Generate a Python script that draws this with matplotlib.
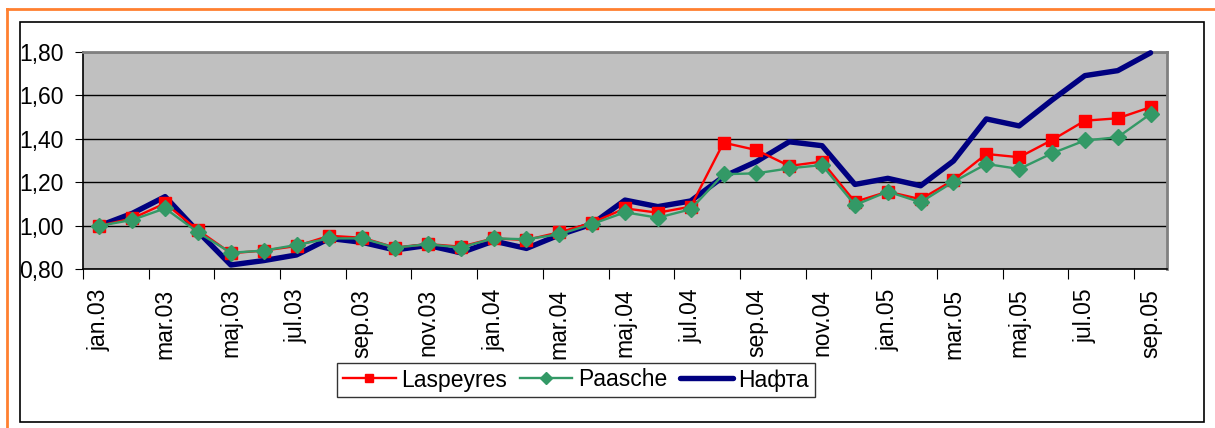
import matplotlib.pyplot as plt
import matplotlib.patches as mpatches
from matplotlib.lines import Line2D

plt.rcParams['font.family'] = ['Liberation Sans', 'DejaVu Sans']

meseci = ["jan", "feb", "mar", "apr", "maj", "jun", "jul", "avg", "sep", "okt", "nov", "dek"]
periodi = [m + "." + g for g in ["03", "04", "05"] for m in meseci][:33]

laspeyres = [1.00, 1.034, 1.103, 0.98, 0.874, 0.886, 0.907, 0.954, 0.945, 0.90,
             0.916, 0.904, 0.942, 0.935, 0.97, 1.014, 1.08, 1.06, 1.088, 1.382,
             1.348, 1.275, 1.295, 1.11, 1.157, 1.122, 1.21, 1.33, 1.315, 1.394,
             1.483, 1.494, 1.545]
paasche = [1.00, 1.027, 1.08, 0.97, 0.876, 0.886, 0.912, 0.942, 0.942, 0.90,
           0.915, 0.90, 0.942, 0.938, 0.961, 1.008, 1.062, 1.037, 1.076, 1.237,
           1.241, 1.264, 1.279, 1.095, 1.157, 1.108, 1.202, 1.284, 1.261, 1.333,
           1.392, 1.407, 1.514]
nafta = [1.00, 1.057, 1.134, 0.973, 0.82, 0.84, 0.866, 0.942, 0.924, 0.889,
         0.91, 0.876, 0.93, 0.896, 0.958, 1.008, 1.118, 1.088, 1.114, 1.226,
         1.295, 1.386, 1.368, 1.19, 1.218, 1.184, 1.298, 1.491, 1.459, 1.578,
         1.69, 1.713, 1.795]

x = list(range(len(periodi)))
fs = 16.5

fig = plt.figure(figsize=(12.15, 4.28), dpi=100)

# okviri: portokalov i crn
fig.add_artist(Line2D([7 / 1215, 7 / 1215], [0, 1 - 9 / 428], color='#FF8030', lw=2))
fig.add_artist(Line2D([7 / 1215, 1], [1 - 9 / 428, 1 - 9 / 428], color='#FF8030', lw=2))
fig.add_artist(mpatches.Rectangle((20 / 1215, 1 - 422 / 428), 1184 / 1215, 400 / 428,
                                  fill=False, edgecolor='black', lw=1.2))

ax = fig.add_axes([83 / 1215, 1 - 269.3 / 428, 1084 / 1215, 217.6 / 428])
ax.set_facecolor('#C0C0C0')

ax.plot(x, nafta, color='#000080', lw=3.9, label='Нафта', zorder=3,
        solid_capstyle='round', clip_on=False)
ax.plot(x, laspeyres, color='#FF0000', lw=1.7, marker='s', ms=8, label='Laspeyres', zorder=4)
ax.plot(x, paasche, color='#339966', lw=1.7, marker='D', ms=8, label='Paasche', zorder=5)

ax.set_xlim(-0.5, len(x) - 0.5)
ax.set_ylim(0.8, 1.8)
ax.set_yticks([0.8, 1.0, 1.2, 1.4, 1.6, 1.8])
ax.set_yticklabels([f"{v:.2f}".replace('.', ',') for v in ax.get_yticks()])
ax.yaxis.grid(True, color='black', lw=1)
ax.set_axisbelow(True)

ax.set_xticks([i - 0.5 for i in range(0, 33, 2)])
ax.set_xticklabels([])
ax.set_xticks(x[::2], minor=True)
ax.set_xticklabels(periodi[::2], minor=True, rotation=90)
ax.tick_params(axis='x', which='major', length=7, direction='out')
ax.tick_params(axis='x', which='minor', length=0, pad=14, labelsize=fs)
ax.tick_params(axis='y', length=6, pad=8, labelsize=fs)

for s in ['top', 'right']:
    ax.spines[s].set_color('#808080')
    ax.spines[s].set_linewidth(2)
for s in ['left', 'bottom']:
    ax.spines[s].set_color('black')
    ax.spines[s].set_linewidth(1.2)

h, l = ax.get_legend_handles_labels()
order = [1, 2, 0]
leg = fig.legend([h[i] for i in order], [l[i] for i in order], ncol=3,
                 loc='center', bbox_to_anchor=(576 / 1215, 1 - 380 / 428),
                 frameon=True, fancybox=False, shadow=False, fontsize=fs,
                 handlelength=2.3, handletextpad=0.25, columnspacing=0.55,
                 borderpad=0.25, markerscale=0.8)
leg.get_frame().set_edgecolor('black')
leg.get_frame().set_linewidth(1)

fig.savefig('out.png', dpi=100)
